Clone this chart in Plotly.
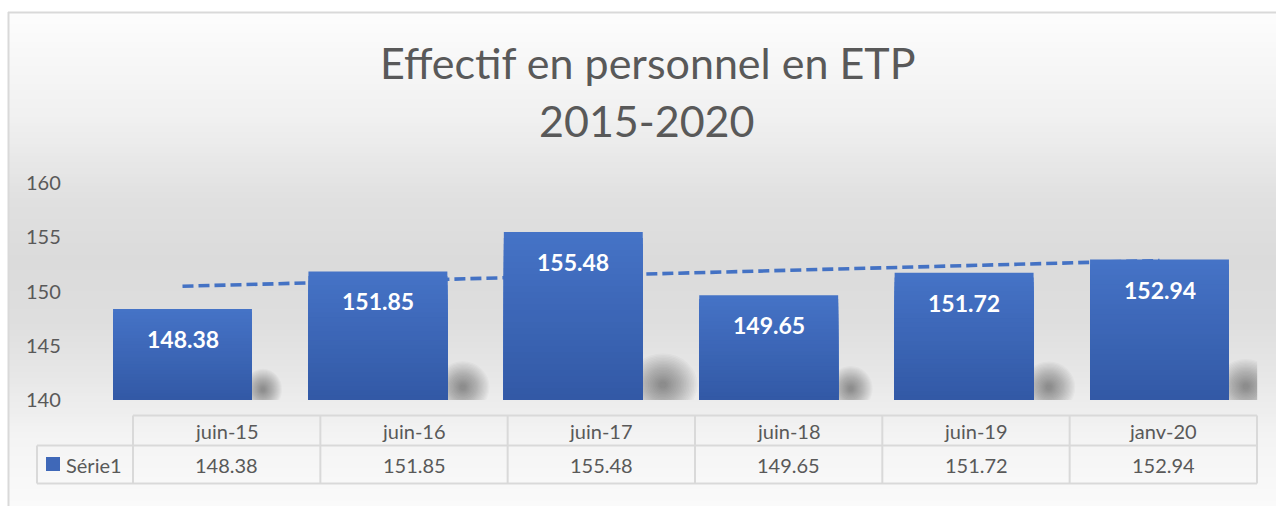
import numpy as np
import plotly.graph_objects as go

# ---- data -------------------------------------------------------------
categories = ["juin-15", "juin-16", "juin-17", "juin-18", "juin-19", "janv-20"]
effectif = [148.38, 151.85, 155.48, 149.65, 151.72, 152.94]
series_name = "Série1"
y_ticks = [140, 145, 150, 155, 160]
title_lines = ["Effectif en personnel en ETP", "2015-2020"]

# ---- canvas helpers (pixel -> paper fraction) -------------------------
W, H = 1276, 506
FONT = "Lato"
GREY_TXT = "#595959"
BORDER = "#D9D9D9"


def fx(px):
    return px / W


def fy(py):
    return 1 - py / H


Y_MIN, Y_MAX = 140, 160
PLOT_L, PLOT_R, PLOT_T, PLOT_B = 84.8, 1257.2, 183, 400
BAR_W = 0.711
n = len(categories)
xs = list(range(n))

fig = go.Figure()
shapes = []
annotations = []

# ---- chart-area background gradient (horizontal stripes) --------------
grad_stops = [(12, 253), (120, 240), (200, 224), (260, 219), (320, 222),
              (380, 232), (440, 244), (506, 250)]
gy = [s[0] for s in grad_stops]
gv = [s[1] for s in grad_stops]
step = 3
for y0 in range(12, H, step):
    g = int(round(np.interp(y0 + step / 2, gy, gv)))
    shapes.append(dict(type="rect", xref="paper", yref="paper", layer="below",
                       x0=fx(8), x1=1, y0=fy(min(y0 + step + 1, H)), y1=fy(y0),
                       line=dict(width=0), fillcolor=f"rgb({g},{g},{g})"))
# frame border
shapes.append(dict(type="line", xref="paper", yref="paper", x0=fx(8), x1=1,
                   y0=fy(12.5), y1=fy(12.5), line=dict(color=BORDER, width=2)))
shapes.append(dict(type="line", xref="paper", yref="paper", x0=fx(8.5), x1=fx(8.5),
                   y0=fy(12), y1=0, line=dict(color=BORDER, width=2)))

# ---- soft shadows behind the bars (nested translucent ellipses) ------
px_per_x = (PLOT_R - PLOT_L) / n
px_per_y = (PLOT_B - PLOT_T) / (Y_MAX - Y_MIN)
for i, v in enumerate(effectif):
    h_px = (v - Y_MIN) * px_per_y
    xr = i + BAR_W / 2
    cx = 0.12 * h_px            # centre offset right of the bar edge (px)
    cy = 0.06 * h_px + 5        # centre height above the baseline (px)
    for t in np.linspace(1.0, 0.1, 20):
        rx = t * (0.20 * h_px + 1)
        ry = t * (0.14 * h_px + 8)
        shapes.append(dict(
            type="circle", xref="x", yref="y", layer="below",
            x0=xr + (cx - rx) / px_per_x, x1=xr + (cx + rx) / px_per_x,
            y0=Y_MIN + (cy - ry) / px_per_y, y1=Y_MIN + (cy + ry) / px_per_y,
            line=dict(width=0), fillcolor="rgba(30,30,30,0.026)"))

# ---- linear trend line (behind bars) ---------------------------------
coef = np.polyfit(xs, effectif, 1)
trend = np.polyval(coef, [xs[0], xs[-1]])
shapes.append(dict(type="line", xref="x", yref="y", layer="below",
                   x0=xs[0], x1=xs[-1], y0=trend[0], y1=trend[1],
                   line=dict(color="#4472C4", width=3.6, dash="11px,5px")))

# ---- bars with vertical gradient (stacked overlay layers) ------------
top_rgb = np.array([69, 115, 198])
bot_rgb = np.array([50, 88, 165])
N_LAYERS = 28
for k in range(N_LAYERS):
    f = (N_LAYERS - k) / N_LAYERS
    c = bot_rgb + (top_rgb - bot_rgb) * f
    fig.add_trace(go.Bar(
        x=xs, y=[(v - Y_MIN) * f for v in effectif], base=Y_MIN,
        width=BAR_W, marker=dict(color=f"rgb({c[0]:.0f},{c[1]:.0f},{c[2]:.0f})",
                                 line=dict(width=0)),
        hoverinfo="skip" if k else "y", showlegend=False, name=series_name))

# ---- data labels inside bars -----------------------------------------
for i, v in enumerate(effectif):
    annotations.append(dict(x=i, y=v, xref="x", yref="y", yshift=-30,
                            text=f"<b>{v:.2f}</b>", showarrow=False,
                            yanchor="middle", xanchor="center",
                            font=dict(family=FONT, size=23, color="white")))

# ---- title ------------------------------------------------------------
for line, base_py in zip(title_lines, [63, 121]):
    annotations.append(dict(x=fx(647), y=fy(base_py), xref="paper", yref="paper",
                            text=line, showarrow=False, xanchor="center",
                            yanchor="middle",
                            font=dict(family=FONT, size=43, color=GREY_TXT)))

# ---- data table under the plot ---------------------------------------
T_L, T_R = 133, 1257
LBL_L = 37
ROW_Y = [415.5, 445.5, 483.5]
col_w = (T_R - T_L) / n
line_style = dict(color=BORDER, width=2)
shapes.append(dict(type="line", xref="paper", yref="paper", x0=fx(T_L), x1=fx(T_R),
                   y0=fy(ROW_Y[0]), y1=fy(ROW_Y[0]), line=line_style))
for ry in ROW_Y[1:]:
    shapes.append(dict(type="line", xref="paper", yref="paper", x0=fx(LBL_L),
                       x1=fx(T_R), y0=fy(ry), y1=fy(ry), line=line_style))
shapes.append(dict(type="line", xref="paper", yref="paper", x0=fx(LBL_L),
                   x1=fx(LBL_L), y0=fy(ROW_Y[1]), y1=fy(ROW_Y[2]), line=line_style))
for k in range(n + 1):
    cxp = T_L + k * col_w
    shapes.append(dict(type="line", xref="paper", yref="paper", x0=fx(cxp), x1=fx(cxp),
                       y0=fy(ROW_Y[0]), y1=fy(ROW_Y[2]), line=line_style))

hdr_mid = (ROW_Y[0] + ROW_Y[1]) / 2
val_mid = (ROW_Y[1] + ROW_Y[2]) / 2
for k, (cat, v) in enumerate(zip(categories, effectif)):
    cxp = T_L + (k + 0.5) * col_w
    annotations.append(dict(x=fx(cxp), y=fy(hdr_mid), xref="paper", yref="paper",
                            text=cat, showarrow=False, xanchor="center",
                            yanchor="middle",
                            font=dict(family=FONT, size=20, color=GREY_TXT)))
    annotations.append(dict(x=fx(cxp), y=fy(val_mid), xref="paper", yref="paper",
                            text=f"{v:.2f}", showarrow=False, xanchor="center",
                            yanchor="middle",
                            font=dict(family=FONT, size=20, color=GREY_TXT)))

# legend key + series name in the table's label column
shapes.append(dict(type="rect", xref="paper", yref="paper", x0=fx(46), x1=fx(60),
                   y0=fy(471), y1=fy(457), line=dict(width=0), fillcolor="#3F68B8"))
annotations.append(dict(x=fx(64), y=fy(val_mid), xref="paper", yref="paper",
                        text=series_name, showarrow=False, xanchor="left",
                        yanchor="middle",
                        font=dict(family=FONT, size=20, color=GREY_TXT)))

fig.update_layout(
    width=W, height=H,
    margin=dict(l=0, r=0, t=0, b=0, pad=0),
    autosize=False,
    paper_bgcolor="white",
    plot_bgcolor="rgba(0,0,0,0)",
    barmode="overlay",
    showlegend=False,
    shapes=shapes,
    annotations=annotations,
    xaxis=dict(domain=[fx(PLOT_L), fx(PLOT_R)], range=[-0.5, n - 0.5],
               showticklabels=False, showgrid=False, zeroline=False,
               showline=False, ticks="", fixedrange=True, automargin=False),
    yaxis=dict(domain=[fy(PLOT_B), fy(PLOT_T)], range=[Y_MIN, Y_MAX],
               tickvals=y_ticks, showgrid=False, zeroline=False, showline=False,
               ticks="", ticklabelstandoff=23, fixedrange=True, automargin=False,
               tickfont=dict(family=FONT, size=20, color=GREY_TXT)),
)

# pin the figure to the top-left corner of a margin-free page
page_css = ("var s=document.createElement('style');"
            "s.textContent='html,body{margin:0;padding:0;overflow:hidden;}';"
            "document.head.appendChild(s);"
            "var d=document.getElementById('{plot_id}');"
            "d.style.position='absolute';d.style.left='0px';d.style.top='0px';")
fig.write_html("out.html", config={"displayModeBar": False}, post_script=page_css)
